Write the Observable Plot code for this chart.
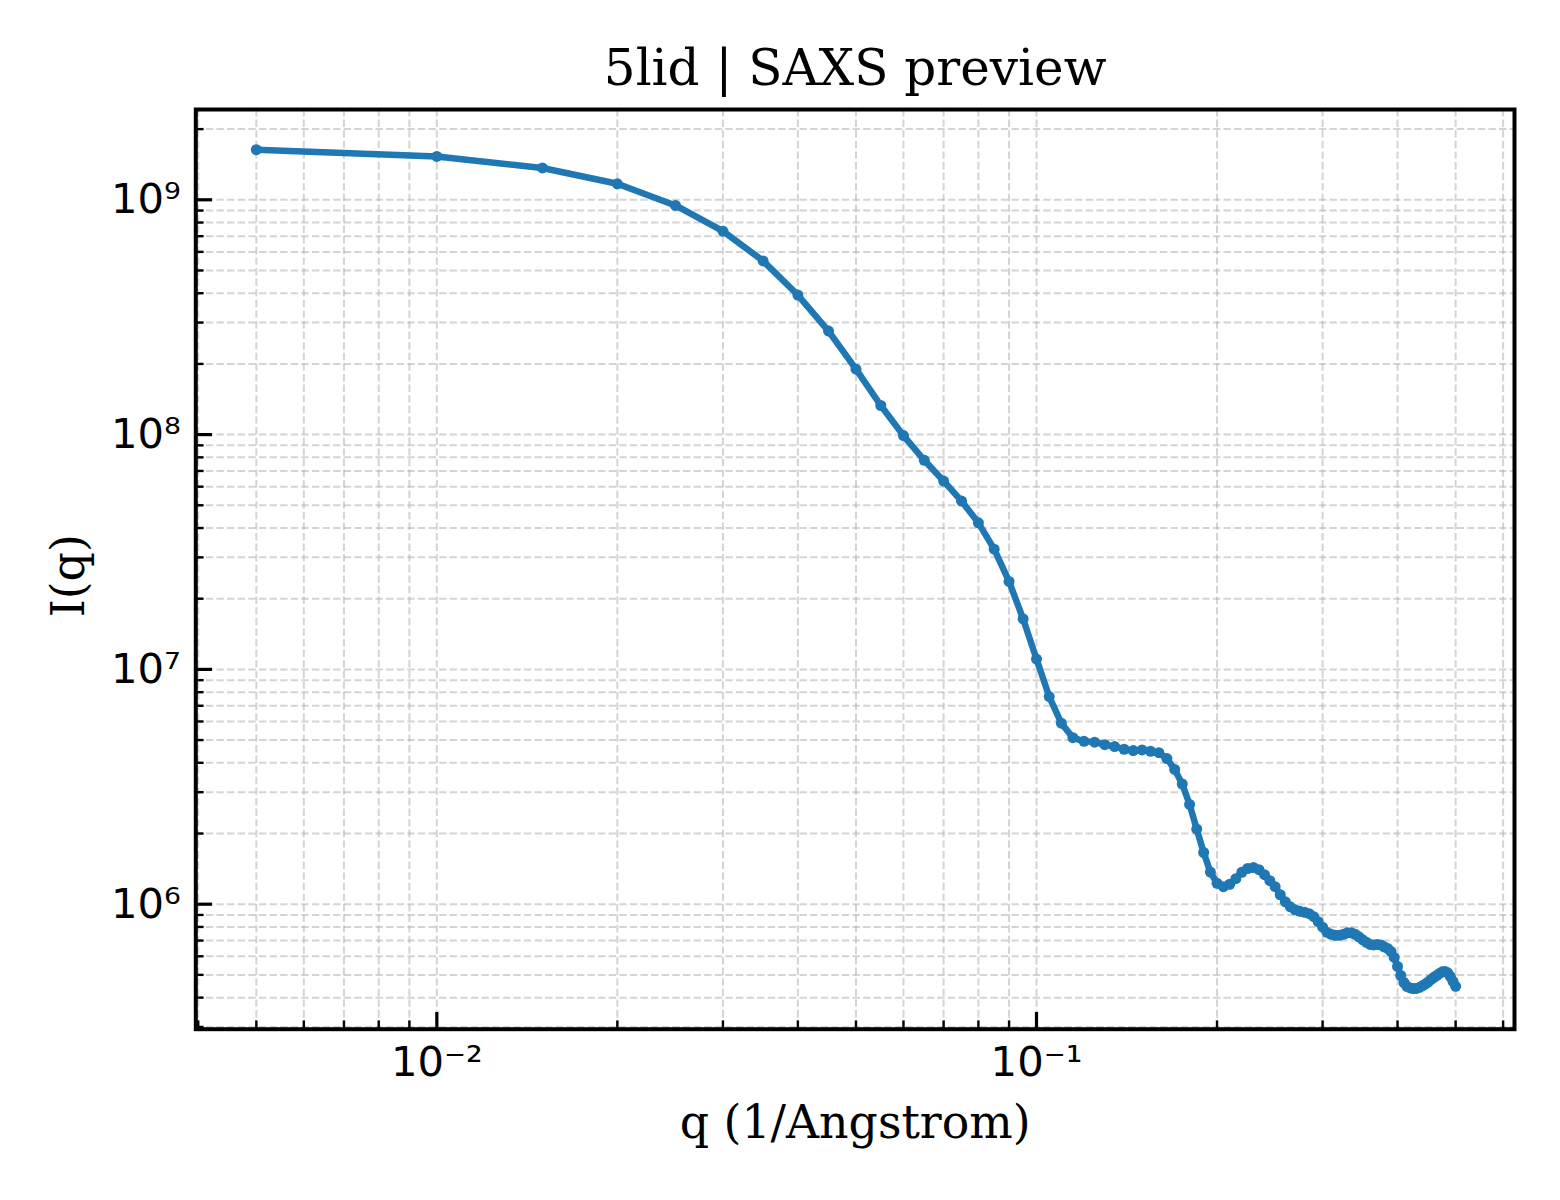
<!DOCTYPE html>
<html><head><meta charset="utf-8">
<script src="https://cdn.jsdelivr.net/npm/d3@7"></script>
<script src="https://cdn.jsdelivr.net/npm/@observablehq/plot@0.6"></script>
<style>body{margin:0;background:#fff} #chart svg{display:block}</style>
</head><body><div id="chart"></div>
<script>
const titleText = "5lid | SAXS preview";
const xLabel = "q (1/Angstrom)";
const yLabel = "I(q)";

const qValues = [
  0.005, 0.010, 0.015, 0.020, 0.025, 0.030, 0.035, 0.040, 0.045, 0.050,
  0.055, 0.060, 0.065, 0.070, 0.075, 0.080, 0.085, 0.090, 0.095, 0.100,
  0.105, 0.110, 0.115, 0.120, 0.125, 0.130, 0.135, 0.140, 0.145, 0.150,
  0.155, 0.160, 0.165, 0.170, 0.175, 0.180, 0.185, 0.190, 0.195, 0.200,
  0.205, 0.210, 0.215, 0.220, 0.225, 0.230, 0.235, 0.240, 0.245, 0.250,
  0.255, 0.260, 0.265, 0.270, 0.275, 0.280, 0.285, 0.290, 0.295, 0.300,
  0.305, 0.310, 0.315, 0.320, 0.325, 0.330, 0.335, 0.340, 0.345, 0.350,
  0.355, 0.360, 0.365, 0.370, 0.375, 0.380, 0.385, 0.390, 0.395, 0.400,
  0.405, 0.410, 0.415, 0.420, 0.425, 0.430, 0.435, 0.440, 0.445, 0.450,
  0.455, 0.460, 0.465, 0.470, 0.475, 0.480, 0.485, 0.490, 0.495, 0.500
];
const intensity = [
  1.635e9, 1.53e9, 1.366e9, 1.17e9, 9.46e8, 7.35e8, 5.49e8, 3.93e8, 2.76e8, 1.90e8,
  1.33e8, 9.9e7, 7.77e7, 6.34e7, 5.21e7, 4.21e7, 3.25e7, 2.37e7, 1.64e7, 1.107e7,
  7.66e6, 5.90e6, 5.12e6, 4.94e6, 4.90e6, 4.78e6, 4.69e6, 4.57e6, 4.51e6, 4.54e6,
  4.48e6, 4.42e6, 4.17e6, 3.75e6, 3.25e6, 2.66e6, 2.09e6, 1.66e6, 1.37e6, 1.228e6,
  1.187e6, 1.216e6, 1.284e6, 1.368e6, 1.419e6, 1.433e6, 1.403e6, 1.335e6, 1.259e6, 1.187e6,
  1.097e6, 1.024e6, 9.75e5, 9.46e5, 9.33e5, 9.24e5, 9.11e5, 8.85e5, 8.42e5, 7.98e5,
  7.59e5, 7.44e5, 7.37e5, 7.37e5, 7.44e5, 7.55e5, 7.55e5, 7.44e5, 7.26e5, 7.05e5,
  6.88e5, 6.74e5, 6.71e5, 6.74e5, 6.71e5, 6.58e5, 6.48e5, 6.29e5, 5.93e5, 5.43e5,
  4.97e5, 4.64e5, 4.46e5, 4.40e5, 4.37e5, 4.38e5, 4.42e5, 4.49e5, 4.57e5, 4.66e5,
  4.78e5, 4.88e5, 4.97e5, 5.07e5, 5.15e5, 5.17e5, 5.10e5, 4.92e5, 4.69e5, 4.47e5
];

const xMajorTicks = [0.01, 0.1];
const xMajorLabels = ["10\u207B\u00B2", "10\u207B\u00B9"];
const xMinorTicks = [0.004, 0.005, 0.006, 0.007, 0.008, 0.009,
  0.02, 0.03, 0.04, 0.05, 0.06, 0.07, 0.08, 0.09,
  0.2, 0.3, 0.4, 0.5, 0.6];
const yMajorTicks = [1e6, 1e7, 1e8, 1e9];
const yMajorLabels = ["10\u2076", "10\u2077", "10\u2078", "10\u2079"];
const yMinorTicks = [3e5, 4e5, 5e5, 6e5, 7e5, 8e5, 9e5,
  2e6, 3e6, 4e6, 5e6, 6e6, 7e6, 8e6, 9e6,
  2e7, 3e7, 4e7, 5e7, 6e7, 7e7, 8e7, 9e7,
  2e8, 3e8, 4e8, 5e8, 6e8, 7e8, 8e8, 9e8,
  2e9];

const data = qValues.map((q, i) => ({q, I: intensity[i]}));

const W = 1560, H = 1200, mL = 195.3, mR = 46, mT = 109, mB = 171.3;
const frameW = W - mL - mR, frameH = H - mT - mB;
const majorLen = 16.7, minorLen = 8.3;
const serif = "DejaVu Serif";
const sans = "DejaVu Sans";
const gridStyle = {stroke: "#b0b0b0", strokeOpacity: 0.55, strokeWidth: 2, strokeDasharray: "7.4,3.2"};

const chart = Plot.plot({
  width: W, height: H,
  marginLeft: mL, marginRight: mR, marginTop: mT, marginBottom: mB,
  style: {background: "white", color: "black", fontFamily: sans},
  x: {type: "log", domain: [0.003963, 0.6268]},
  y: {type: "log", domain: [2.935e5, 2.424e9]},
  marks: [
    Plot.ruleX([...xMajorTicks, ...xMinorTicks], {x: d => d, ...gridStyle}),
    Plot.ruleY([...yMajorTicks, ...yMinorTicks], {y: d => d, ...gridStyle}),
    Plot.line(data, {x: "q", y: "I", stroke: "#1f77b4", strokeWidth: 6.5, strokeLinejoin: "round", strokeLinecap: "round"}),
    Plot.dot(data, {x: "q", y: "I", r: 5.5, fill: "#1f77b4", stroke: null}),
    Plot.tickX(xMajorTicks, {x: d => d, insetTop: frameH - majorLen, stroke: "black", strokeWidth: 3.2}),
    Plot.tickX(xMinorTicks, {x: d => d, insetTop: frameH - minorLen, stroke: "black", strokeWidth: 2.4}),
    Plot.tickY(yMajorTicks, {y: d => d, insetRight: frameW - majorLen, stroke: "black", strokeWidth: 3.2}),
    Plot.tickY(yMinorTicks, {y: d => d, insetRight: frameW - minorLen, stroke: "black", strokeWidth: 2.4}),
    Plot.frame({stroke: "black", strokeWidth: 4}),
    Plot.axisX(xMajorTicks, {tickSize: 0, tickPadding: 17, fontSize: 41.7, fontFamily: sans, label: null,
      tickFormat: d => xMajorLabels[xMajorTicks.indexOf(d)]}),
    Plot.axisY(yMajorTicks, {tickSize: 0, tickPadding: 15, fontSize: 41.7, fontFamily: sans, label: null,
      tickFormat: d => yMajorLabels[yMajorTicks.indexOf(d)]}),
    Plot.text([titleText], {text: d => d, frameAnchor: "top", dy: -25, lineAnchor: "bottom", fontSize: 50, fontFamily: serif, fill: "black"}),
    Plot.text([xLabel], {text: d => d, frameAnchor: "bottom", dy: 109, lineAnchor: "bottom", fontSize: 45.8, fontFamily: serif, fill: "black"}),
    Plot.text([yLabel], {text: d => d, frameAnchor: "left", dx: -112, dy: 48, rotate: -90, lineAnchor: "bottom", fontSize: 45.8, fontFamily: serif, fill: "black"})
  ]
});
document.getElementById("chart").append(chart);
</script>
</body></html>
